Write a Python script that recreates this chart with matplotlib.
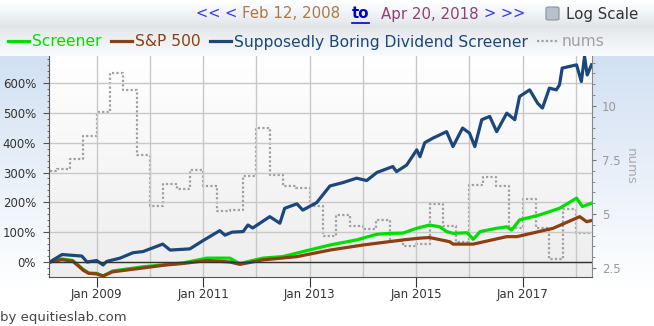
import numpy as np
import matplotlib
matplotlib.use("Agg")
import matplotlib.pyplot as plt
from matplotlib.lines import Line2D
from matplotlib.patches import FancyBboxPatch

# values (x in decimal years)
div_x = [2008.12, 2008.35, 2008.72, 2008.82, 2009.00, 2009.12, 2009.19, 2009.44, 2009.68,
         2009.87, 2010.24, 2010.38, 2010.75, 2010.99, 2011.31, 2011.41, 2011.54, 2011.75,
         2011.84, 2011.93, 2012.25, 2012.44, 2012.53, 2012.76, 2012.87, 2013.13, 2013.38,
         2013.62, 2013.88, 2014.07, 2014.26, 2014.56, 2014.63, 2014.82, 2015.01, 2015.07,
         2015.16, 2015.31, 2015.57, 2015.69, 2015.87, 2016.00, 2016.10, 2016.23, 2016.38,
         2016.51, 2016.70, 2016.85, 2016.94, 2017.13, 2017.28, 2017.37, 2017.50, 2017.63,
         2017.69, 2017.74, 2018.01, 2018.10, 2018.16, 2018.21, 2018.29]
div_y = [0, 25, 20, 0, 5, -10, 2, 13, 31,
         35, 60, 40, 44, 71, 105, 90, 100, 102,
         124, 114, 152, 130, 180, 195, 174, 199, 255,
         266, 281, 273, 300, 320, 303, 325, 376, 353,
         400, 415, 437, 387, 449, 432, 387, 477, 488,
         437, 499, 477, 555, 577, 532, 516, 583, 577,
         594, 650, 661, 605, 689, 627, 661]

scr_x = [2008.12, 2008.35, 2008.55, 2008.75, 2008.85, 2009.00, 2009.12, 2009.30, 2009.87,
         2010.62, 2011.07, 2011.50, 2011.63, 2011.69, 2012.12, 2012.49, 2012.99, 2013.38,
         2013.88, 2014.26, 2014.50, 2014.75, 2015.01, 2015.25, 2015.44, 2015.57, 2015.69,
         2015.96, 2016.07, 2016.20, 2016.51, 2016.70, 2016.79, 2016.94, 2017.32, 2017.69,
         2018.01, 2018.12, 2018.29]
scr_y = [0, 10, 5, -25, -37, -38, -47, -30, -16,
         -3, 13, 13, 0, -5, 13, 18, 40, 57,
         74, 93, 96, 97, 113, 124, 118, 102, 96,
         98, 76, 102, 113, 118, 107, 141, 158, 180,
         214, 186, 197]

spx_x = [2008.12, 2008.35, 2008.55, 2008.75, 2008.85, 2009.00, 2009.12, 2009.30, 2009.87,
         2010.30, 2010.62, 2011.07, 2011.50, 2011.69, 2012.12, 2012.76, 2013.38, 2014.00,
         2014.75, 2015.07, 2015.25, 2015.63, 2015.69, 2016.07, 2016.70, 2016.89, 2017.57,
         2018.07, 2018.20, 2018.29]
spx_y = [0, 8, 3, -28, -38, -40, -47, -33, -20,
         -10, -5, 5, 0, -8, 7, 18, 40, 57,
         74, 80, 82, 68, 60, 60, 85, 85, 113,
         152, 135, 139]

nums_x = [2008.12, 2008.25, 2008.50, 2008.75, 2009.00, 2009.25, 2009.50, 2009.75, 2010.00,
          2010.25, 2010.50, 2010.75, 2011.00, 2011.25, 2011.50, 2011.75, 2012.00, 2012.25,
          2012.50, 2012.75, 2013.00, 2013.25, 2013.50, 2013.75, 2014.00, 2014.25, 2014.50,
          2014.75, 2015.00, 2015.25, 2015.50, 2015.75, 2016.00, 2016.25, 2016.50, 2016.75,
          2017.00, 2017.25, 2017.50, 2017.75, 2018.00, 2018.30]
nums_y = [7.0, 7.1, 7.55, 8.6, 9.7, 11.5, 10.75, 7.75, 5.35,
          6.4, 6.15, 7.05, 6.3, 5.15, 5.2, 6.75, 9.0, 6.8,
          6.3, 6.2, 5.35, 4.0, 4.95, 4.45, 4.3, 4.7, 3.75,
          3.5, 3.6, 5.45, 4.45, 3.7, 6.33, 6.7, 6.27, 4.34,
          5.67, 4.33, 2.92, 5.21, 4.13, 4.13]

series_names = ["Screener", "S&P 500", "Supposedly Boring Dividend Screener", "nums"]
x_ticks = [2009, 2011, 2013, 2015, 2017]
x_labels = ["Jan 2009", "Jan 2011", "Jan 2013", "Jan 2015", "Jan 2017"]
left_ticks = [0, 100, 200, 300, 400, 500, 600]
right_ticks = [2.5, 5, 7.5, 10]
right_labels = ["2.5", "5", "7.5", "10"]

W, H = 654, 326


def fp(x, y):
    return x / W, 1 - y / H


fig = plt.figure(figsize=(W / 100, H / 100), dpi=100)

# background gradients
img = np.ones((H, W, 3))
for row in range(0, 56):
    if row < 28:
        v = 1 - 0.12 * row / 28
    else:
        v = 0.90 + 0.08 * (row - 28) / 28
    img[row, :, :] = [v, min(1, v + 0.01), min(1, v + 0.02)]
for row in range(56, 300):
    t = min(1, (row - 56) / 230)
    col = np.array([0.82, 0.88, 0.95]) * (1 - t) + t
    img[row, :49] = col
    img[row, 593:] = col
for row in range(56, 278):
    v = 1 - 0.07 * (row - 56) / 221
    img[row, 49:593] = v
bgax = fig.add_axes([0, 0, 1, 1], zorder=-10)
bgax.imshow(img, aspect="auto", extent=(0, 1, 0, 1))
bgax.axis("off")

ax = fig.add_axes([49 / W, (H - 277) / H, (592 - 49) / W, (277 - 56) / H])
ax2 = ax.twinx()
ax.set_zorder(ax2.get_zorder() + 1)
ax.patch.set_visible(False)
ax2.patch.set_visible(False)

ax2.step(nums_x, nums_y, where="post", color="#a0a0a0", lw=1.6, ls=(0, (1, 1)))
ax.plot(scr_x, scr_y, color="#00dd00", lw=2.3)
ax.plot(spx_x, spx_y, color="#8b3f12", lw=2.3)
ax.plot(div_x, div_y, color="#1c477a", lw=2.3)
ax.axhline(0, color="#333333", lw=1)

ax.set_xlim(2008.105, 2018.30)
ax.set_ylim(-50.3, 690.6)
ax2.set_ylim(2.08, 12.31)

ax.set_xticks(x_ticks)
ax.set_xticklabels(x_labels)
ax.set_xticks(range(2010, 2019, 2), minor=True)
ax.set_yticks(left_ticks)
ax.set_yticklabels([f"{v}%" for v in left_ticks])
ax.set_yticks(range(-40, 690, 20), minor=True)
ax.grid(True, which="both", axis="x", color="#c8c8c8", lw=1)
ax.grid(True, which="major", axis="y", color="#c8c8c8", lw=1)
ax.set_axisbelow(True)

ax.tick_params(axis="x", which="major", length=7, color="#333333", labelsize=8.5,
               labelcolor="#333333", pad=1)
ax.tick_params(axis="x", which="minor", length=0)
ax.tick_params(axis="y", which="major", length=4.3, color="#555555", labelsize=8.5,
               labelcolor="#333333", pad=5)
ax.tick_params(axis="y", which="minor", length=1.8, color="#555555")

ax2.set_yticks(right_ticks)
ax2.set_yticklabels(right_labels)
ax2.set_yticks(np.arange(2.5, 12.4, 0.5), minor=True)
ax2.tick_params(axis="y", which="major", length=3, color="#777777", labelsize=8.5,
                labelcolor="#999999", pad=4)
ax2.tick_params(axis="y", which="minor", length=2, color="#777777")
ax2.set_ylabel("nums", rotation=-90, color="#aaaaaa", fontsize=9.5, labelpad=12)

for s in ["top", "right"]:
    ax.spines[s].set_visible(False)
for s in ["top", "left", "bottom"]:
    ax2.spines[s].set_visible(False)
ax.spines["left"].set_color("#555555")
ax.spines["bottom"].set_color("#555555")
ax2.spines["right"].set_color("#888888")

# legend
handles = [
    Line2D([], [], color="#00dd00", lw=2.3),
    Line2D([], [], color="#8b3f12", lw=2.3),
    Line2D([], [], color="#1c477a", lw=2.3),
    Line2D([], [], color="#a0a0a0", lw=1.6, ls=(0, (1, 1))),
]
fig.legend(handles, series_names, loc="center left", bbox_to_anchor=fp(8, 42),
           ncol=4, frameon=False, fontsize=11.2, labelcolor="linecolor",
           handlelength=1.35, handletextpad=0.2, columnspacing=0.6,
           borderpad=0, borderaxespad=0)

# header
hy = fp(0, 14)[1]
fig.text(fp(237, 0)[0], hy, "<< <", color="#3a3aee", fontsize=10.5, va="center",
         ha="right")
fig.text(fp(242, 0)[0], hy, "Feb 12, 2008", color="#a87a4a", fontsize=10.8, va="center")
fig.text(fp(352, 0)[0], hy, "to", color="#0000cc", fontsize=10.8, va="center",
         fontweight="bold")
fig.add_artist(Line2D([352 / W, 369 / W], [1 - 23 / H, 1 - 23 / H], color="#0000cc",
                      lw=1.2, transform=fig.transFigure))
fig.text(fp(381, 0)[0], hy, "Apr 20, 2018", color="#904070", fontsize=10.8, va="center")
fig.text(fp(484, 0)[0], hy, "> >>", color="#3a3aee", fontsize=10.5, va="center")
fig.add_artist(FancyBboxPatch(fp(546, 20), 13 / W, 13 / H,
                              boxstyle="round,pad=0,rounding_size=0.004",
                              transform=fig.transFigure, facecolor="#b8c0cc",
                              edgecolor="#8a929c", lw=0.8))
fig.text(fp(566, 0)[0], hy, "Log Scale", color="#333333", fontsize=10.8, va="center")

fig.text(fp(0, 317)[0], fp(0, 317)[1], "by equitieslab.com", color="#444444",
         fontsize=9.5, va="center")

fig.savefig("out.png", dpi=100)
